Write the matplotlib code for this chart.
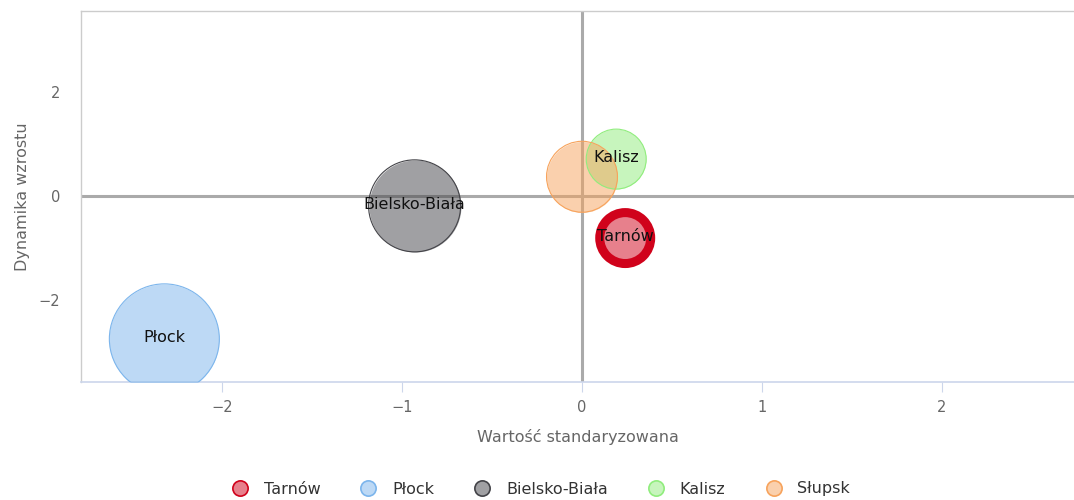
import numpy as np
import matplotlib.pyplot as plt
from matplotlib.lines import Line2D

cities = ["Tarnów", "Płock", "Bielsko-Biała", "Kalisz", "Słupsk"]
x_std = [0.24, -2.32, -0.93, 0.19, 0.0]
y_dyn = [-0.81, -2.75, -0.19, 0.71, 0.37]
z_size = [6.5, 30.3, 21.2, 9.0, 12.6]
point_labels = ["Tarnów", "Płock", "Bielsko-Biała", "Kalisz", ""]

edge_colors = ["#d0021b", "#7cb5ec", "#434348", "#90ed7d", "#f7a35c"]
edge_widths = [6.5, 0.8, 0.8, 0.8, 0.8]

plt.rcParams['font.family'] = ['DejaVu Sans']
fig = plt.figure(figsize=(10.74, 5.0), dpi=100)
ax = fig.add_axes([81/1074, 118/500, 993/1074, 371/500])

for i in range(len(cities)):
    ax.scatter(x_std[i], y_dyn[i], s=z_size[i]*207, color=edge_colors[i], alpha=0.5,
               linewidths=0, zorder=3)
    ax.scatter(x_std[i], y_dyn[i], s=z_size[i]*207, facecolors="none",
               edgecolors=edge_colors[i], linewidths=edge_widths[i], zorder=4)
    if point_labels[i]:
        ax.annotate(point_labels[i], (x_std[i], y_dyn[i]), xytext=(0, 1),
                    textcoords="offset points", ha="center", va="center",
                    fontsize=11.5, fontweight="medium", color="#111111", zorder=5)

ax.axhline(0, color="#aaaaaa", lw=2.2, zorder=2)
ax.axvline(0, color="#aaaaaa", lw=2.2, zorder=2)

ax.set_xlim(-2.783, 2.733)
ax.set_ylim(-3.58, 3.56)
ax.set_xticks([-2, -1, 0, 1, 2])
ax.set_yticks([-2, 0, 2])
ax.set_xticklabels(["−2", "−1", "0", "1", "2"])
ax.set_yticklabels(["−2", "0", "2"])
ax.tick_params(axis="x", length=7, width=0.8, color="#ccd6eb", labelsize=10.5,
               labelcolor="#666666", pad=6)
ax.tick_params(axis="y", length=0, labelsize=10.5, labelcolor="#666666", pad=15)

for side in ["top", "left"]:
    ax.spines[side].set_color("#cccccc")
    ax.spines[side].set_linewidth(1.0)
ax.spines["right"].set_visible(False)
ax.spines["bottom"].set_color("#ccd6eb")
ax.spines["bottom"].set_linewidth(1.2)

ax.set_xlabel("Wartość standaryzowana", fontsize=11.5, color="#666666", labelpad=10)
ax.set_ylabel("Dynamika wzrostu", fontsize=11.5, color="#666666", labelpad=6)

handles = []
for i in range(len(cities)):
    handles.append(Line2D([], [], marker="o", linestyle="", markersize=11,
                          markerfacecolor=edge_colors[i] + "80",
                          markeredgecolor=edge_colors[i], markeredgewidth=1.2,
                          label=cities[i]))
leg = fig.legend(handles=handles, loc="center", bbox_to_anchor=(0.5, 0.022), ncol=5,
                 frameon=False, fontsize=11.5, handletextpad=0.5, columnspacing=2.0)
for t in leg.get_texts():
    t.set_color("#333333")

fig.savefig("out.png", dpi=100)
